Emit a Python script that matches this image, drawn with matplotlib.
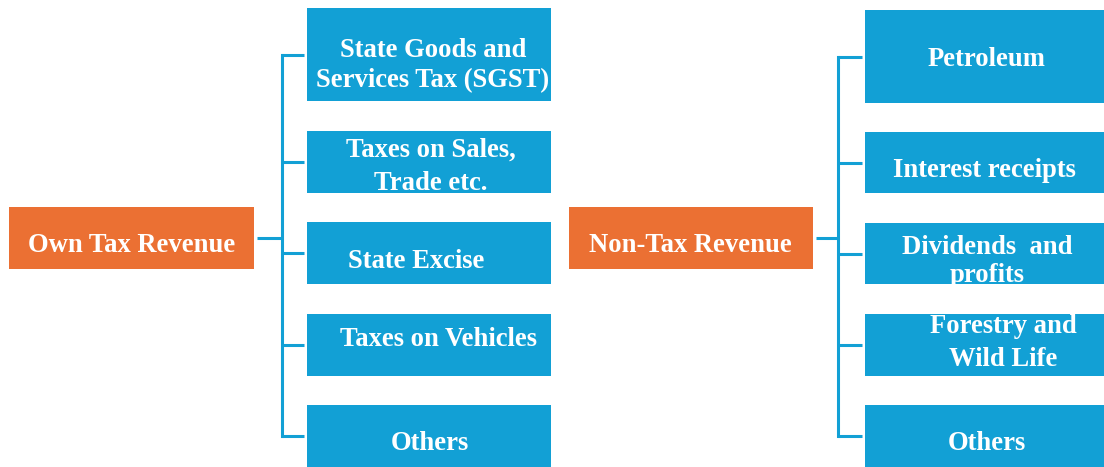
import matplotlib.pyplot as plt
from matplotlib.patches import Rectangle

plt.rcParams["font.family"] = ["Liberation Serif", "DejaVu Serif"]

BLUE = "#12a0d5"
ORANGE = "#eb7033"

# 两棵树：根节点 + 子节点
own_root = "Own Tax Revenue"
own_items = ["State Goods and\nServices Tax (SGST)", "Taxes on Sales,\nTrade etc.",
             "State Excise", "Taxes on Vehicles", "Others"]
non_root = "Non-Tax Revenue"
non_items = ["Petroleum", "Interest receipts", "Dividends  and\nprofits",
             "Forestry and\nWild Life", "Others"]

# 版面（像素）
W, H = 1104, 467
FS = 19.2
box_rows = [(8, 101), (131, 193), (222, 284), (314, 376), (405, 467)]
box_rows_r = [(10, 103), (132, 193), (223, 284), (314, 376), (405, 467)]
# 文字相对盒子中心的偏移、行距
own_text_off = [(4, 11), (2, 5), (-13, 8), (10, -6), (1, 8)]
own_spacing = [1.23, 1.45, 1.2, 1.2, 1.2]
non_text_off = [(2, 3), (0, 8), (3, 8), (19, -2), (2, 8)]
non_spacing = [1.2, 1.2, 1.14, 1.42, 1.2]


def draw_tree(ax, root, items, root_x, root_y, trunk_x, box_x, rows, offs, spacing, text_off_root):
    rx0, rx1 = root_x
    ry0, ry1 = root_y
    ax.add_patch(Rectangle((rx0, ry0), rx1 - rx0, ry1 - ry0, facecolor=ORANGE, edgecolor="none"))
    ax.text((rx0 + rx1) / 2 + text_off_root[0], (ry0 + ry1) / 2 + text_off_root[1], root,
            color="white", fontsize=FS, fontweight="bold", ha="center", va="center")
    cy = (ry0 + ry1) / 2
    ax.plot([rx1 + 3, trunk_x], [cy, cy], color=BLUE, lw=2.2, solid_capstyle="butt")
    centers = [(a + b) / 2 for a, b in rows]
    ax.plot([trunk_x, trunk_x], [centers[0], centers[-1]], color=BLUE, lw=2.2, solid_capstyle="projecting")
    bx0, bx1 = box_x
    for (a, b), c, lab, off, ls in zip(rows, centers, items, offs, spacing):
        ax.plot([trunk_x, bx0 - 3], [c, c], color=BLUE, lw=2.2, solid_capstyle="butt")
        ax.add_patch(Rectangle((bx0, a), bx1 - bx0, b - a, facecolor=BLUE, edgecolor="none"))
        ax.text((bx0 + bx1) / 2 + off[0], c + off[1], lab, color="white", fontsize=FS,
                fontweight="bold", ha="center", va="center", linespacing=ls)


fig = plt.figure(figsize=(W / 100, H / 100), dpi=100)
ax = fig.add_axes([0, 0, 1, 1])
ax.set_xlim(0, W)
ax.set_ylim(H, 0)
ax.axis("off")

draw_tree(ax, own_root, own_items, (9, 254), (207, 269), 282, (307, 551), box_rows,
          own_text_off, own_spacing, (0, 8))
draw_tree(ax, non_root, non_items, (569, 813), (207, 269), 838, (865, 1104), box_rows_r,
          non_text_off, non_spacing, (-1, 8))

fig.savefig("out.png", dpi=100)
plt.close(fig)
